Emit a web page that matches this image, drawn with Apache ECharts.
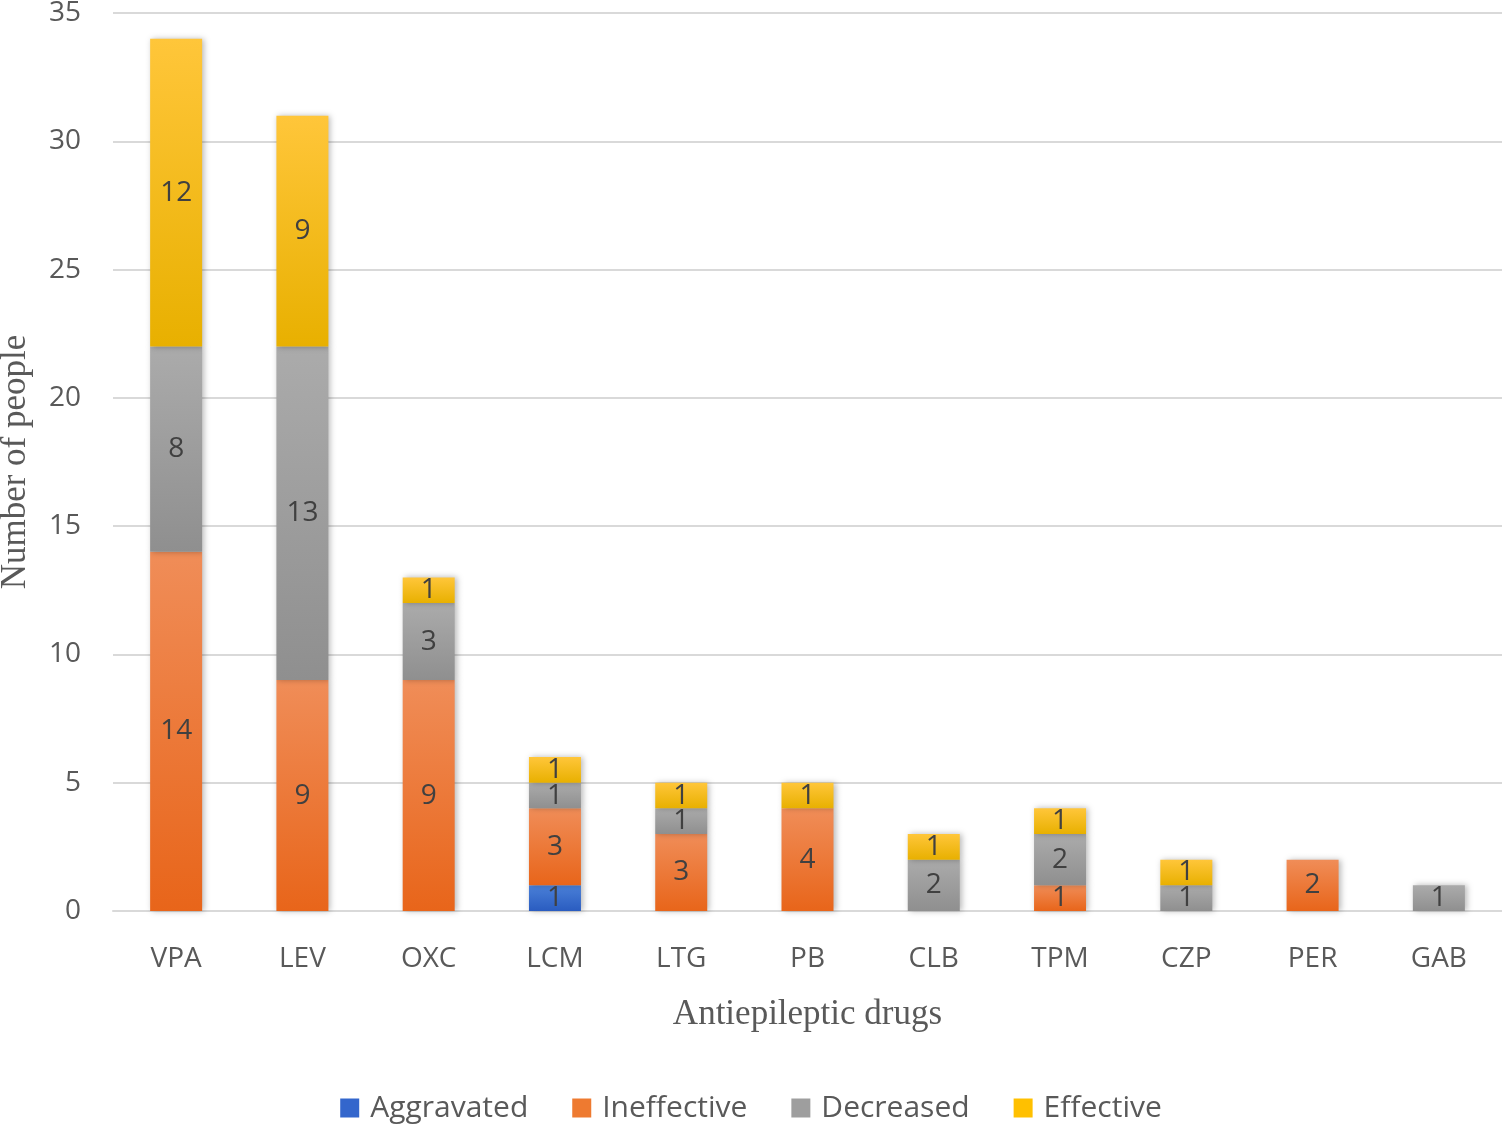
<!DOCTYPE html>
<html>
<head>
<meta charset="utf-8">
<script src="https://cdn.jsdelivr.net/npm/echarts@6/dist/echarts.min.js"></script>
<style>html,body{margin:0;padding:0;background:#fff;}#chart{width:1502px;height:1126px;}</style>
</head>
<body>
<div id="chart"></div>
<script>
var categories = ['VPA','LEV','OXC','LCM','LTG','PB','CLB','TPM','CZP','PER','GAB'];
var aggravated = [null,null,null,1,null,null,null,null,null,null,null];
var ineffective = [14,9,9,3,3,4,null,1,null,2,null];
var decreased = [8,13,3,1,1,null,2,2,1,null,1];
var effective = [12,9,1,1,1,1,1,1,1,null,null];
var yTicks = [0,5,10,15,20,25,30,35];

function grad(top, bottom){
  return new echarts.graphic.LinearGradient(0,0,0,1,[{offset:0,color:top},{offset:1,color:bottom}]);
}
function mk(name, data, top, bottom){
  return {
    name: name, type: 'bar', stack: 'all', data: data, barWidth: 52,
    itemStyle: {color: grad(top,bottom), shadowBlur: 6, shadowColor: 'rgba(0,0,0,0.28)', shadowOffsetX: 2},
    label: {show: true, position: 'inside', color: '#404040', fontSize: 28, fontFamily: 'Open Sans',
      formatter: function(p){ return p.value == null ? '' : p.value; }},
    emphasis: {disabled: true}
  };
}
var chart = echarts.init(document.getElementById('chart'));
chart.setOption({
  animation: false,
  backgroundColor: '#fff',
  grid: {left: 113, right: 0, top: 13, bottom: 215, outerBoundsMode: 'none', containLabel: false},
  legend: {
    top: 1088, left: 'center', itemWidth: 19, itemHeight: 19, itemGap: 44,
    icon: 'rect',
    textStyle: {fontSize: 30, color: '#595959', fontFamily: 'Open Sans', padding: [0,0,0,6]},
    data: [
      {name:'Aggravated', itemStyle:{color:'#3366CC'}},
      {name:'Ineffective', itemStyle:{color:'#EE7A30'}},
      {name:'Decreased', itemStyle:{color:'#9E9E9E'}},
      {name:'Effective', itemStyle:{color:'#FFC000'}}
    ]
  },
  xAxis: {
    type: 'category', data: categories,
    axisLine: {lineStyle: {color: '#D9D9D9', width: 2}},
    axisTick: {show: false},
    axisLabel: {fontSize: 28, color: '#595959', margin: 34, fontFamily: 'Open Sans'},
    name: 'Antiepileptic drugs', nameLocation: 'middle', nameGap: 86,
    nameTextStyle: {fontSize: 35, color: '#595959', fontFamily: 'Liberation Serif'}
  },
  yAxis: {
    type: 'value', min: 0, max: 35, interval: 5,
    axisLine: {show: false}, axisTick: {show: false},
    splitLine: {lineStyle: {color: '#D9D9D9', width: 2}},
    axisLabel: {fontSize: 28, color: '#595959', margin: 32, fontFamily: 'Open Sans'},
    name: 'Number of people', nameLocation: 'middle', nameGap: 80, nameRotate: 90,
    nameTextStyle: {fontSize: 35, color: '#595959', fontFamily: 'Liberation Serif'}
  },
  series: [
    mk('Aggravated', aggravated, '#4A80D8', '#2A5CC0'),
    mk('Ineffective', ineffective, '#F08D58', '#E8651A'),
    mk('Decreased', decreased, '#ABABAB', '#8F8F8F'),
    mk('Effective', effective, '#FFC63A', '#E8B000')
  ]
});
</script>
</body>
</html>
